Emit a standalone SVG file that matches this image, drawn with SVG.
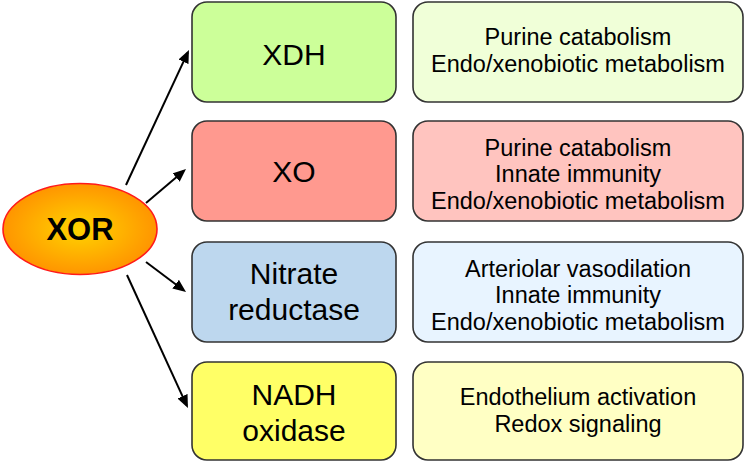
<svg xmlns="http://www.w3.org/2000/svg" width="750" height="465" viewBox="0 0 750 465">
<style>
.b{stroke:#333;stroke-width:1.6}
.t{font-family:"Liberation Sans",Arial,sans-serif;text-anchor:middle;fill:#000}
.l{font-size:30px}
.r{font-size:23.5px}
.c{stroke:#000;stroke-width:2;fill:none;marker-end:url(#ah)}
</style>
<defs>
<marker id="ah" viewBox="0 0 13 11" refX="10" refY="5.5" markerWidth="13" markerHeight="11" markerUnits="userSpaceOnUse" orient="auto">
<path d="M0,0 L13,5.5 L0,11 z" fill="#000"/>
</marker>
<radialGradient id="og" cx="0.5" cy="0.5" r="0.5">
<stop offset="0" stop-color="#ffd400"/>
<stop offset="1" stop-color="#ff9500"/>
</radialGradient>
</defs>
<g id="connectors">
<line class="c" x1="126" y1="185" x2="187.7" y2="52.7"/>
<line class="c" x1="146" y1="203" x2="183.7" y2="171"/>
<line class="c" x1="146" y1="262" x2="183.6" y2="290.2"/>
<line class="c" x1="127" y1="275" x2="186.7" y2="405.3"/>
</g>
<g id="xor">
<ellipse cx="80" cy="229" rx="77" ry="45.5" fill="url(#og)" stroke="#ff1a1a" stroke-width="1.6"/>
<text class="t" x="80" y="240" font-size="31" font-weight="bold">XOR</text>
</g>
<g id="xdh">
<rect class="b" x="192" y="2" width="204" height="100" rx="15" fill="#ccff99"/>
<text class="t l" x="294" y="65">XDH</text>
</g>
<g id="xo">
<rect class="b" x="192" y="121" width="204" height="100" rx="15" fill="#ff998f"/>
<text class="t l" x="294" y="182">XO</text>
</g>
<g id="nitrate">
<rect class="b" x="192" y="242" width="204" height="100" rx="15" fill="#bdd7ee"/>
<text class="t l" x="294" y="284">Nitrate</text>
<text class="t l" x="294" y="320">reductase</text>
</g>
<g id="nadh">
<rect class="b" x="192" y="362" width="204" height="98" rx="15" fill="#ffff66"/>
<text class="t l" x="294" y="405">NADH</text>
<text class="t l" x="294" y="441">oxidase</text>
</g>
<g id="xdh-roles">
<rect class="b" x="413" y="2" width="330" height="100" rx="15" fill="#f0ffd8"/>
<text class="t r" x="578" y="45">Purine catabolism</text>
<text class="t r" x="578" y="72">Endo/xenobiotic metabolism</text>
</g>
<g id="xo-roles">
<rect class="b" x="413" y="121" width="330" height="100" rx="15" fill="#ffc4bf"/>
<text class="t r" x="578" y="156">Purine catabolism</text>
<text class="t r" x="578" y="182">Innate immunity</text>
<text class="t r" x="578" y="209">Endo/xenobiotic metabolism</text>
</g>
<g id="nitrate-roles">
<rect class="b" x="413" y="242" width="330" height="100" rx="15" fill="#e8f4ff"/>
<text class="t r" x="578" y="277">Arteriolar vasodilation</text>
<text class="t r" x="578" y="303">Innate immunity</text>
<text class="t r" x="578" y="330">Endo/xenobiotic metabolism</text>
</g>
<g id="nadh-roles">
<rect class="b" x="413" y="362" width="330" height="98" rx="15" fill="#ffffc4"/>
<text class="t r" x="578" y="405">Endothelium activation</text>
<text class="t r" x="578" y="432">Redox signaling</text>
</g>
</svg>
